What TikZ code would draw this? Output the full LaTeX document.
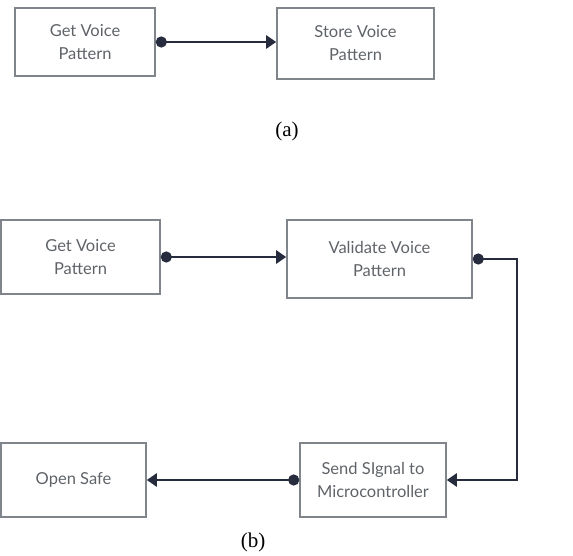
\documentclass[tikz,border=0pt]{standalone}
\usepackage{fontspec}
\setmainfont{Liberation Serif}
\newfontfamily\boxfont{Lato}
\usetikzlibrary{arrows.meta}
\definecolor{boxline}{HTML}{80858B}
\definecolor{boxtext}{HTML}{5F6368}
\definecolor{flowline}{HTML}{262B3D}

\begin{document}
\begin{tikzpicture}[x=1pt,y=-1pt,
  box/.style={rectangle,draw=boxline,line width=1.6pt,text=boxtext,
    font=\boxfont\fontsize{16.5}{23}\selectfont,align=center,inner sep=0pt},
  flow/.style={draw=flowline,line width=2.8pt,
    {Circle[length=11pt]}-{Triangle[length=10pt,width=13pt]}},
  sublabel/.style={font=\fontsize{21}{23}\selectfont}]
\useasboundingbox (0,0) rectangle (573,556);
% (a)
\node [box,minimum width=140pt,minimum height=68pt] (getA) at (85,42) {Get Voice\\Pattern};
\node [box,minimum width=157pt,minimum height=71pt] (store) at (355.5,43.5) {Store Voice\\Pattern};
\draw [flow] (getA.east) -- (getA.east -| store.west);
\node [sublabel] (capa) at (287,131) {(a)};
% (b)
\node [box,minimum width=159pt,minimum height=74pt] (getB) at (80.5,257) {Get Voice\\Pattern};
\node [box,minimum width=185pt,minimum height=78pt] (valid) at (379.5,259) {Validate Voice\\Pattern};
\node [box,minimum width=146pt,minimum height=74pt] (send) at (373,480) {Send SIgnal to\\Microcontroller};
\node [box,minimum width=145pt,minimum height=74pt] (open) at (73.5,480) {Open Safe};
\coordinate (bend) at (517,262);
\draw [flow] (getB.east) -- (getB.east -| valid.west);
\draw [flow] (valid.east) -- (valid.east -| bend) |- (send.east);
\draw [flow] (send.west) -- (open.east);
\node [sublabel] (capb) at (253,542) {(b)};
\end{tikzpicture}
\end{document}
